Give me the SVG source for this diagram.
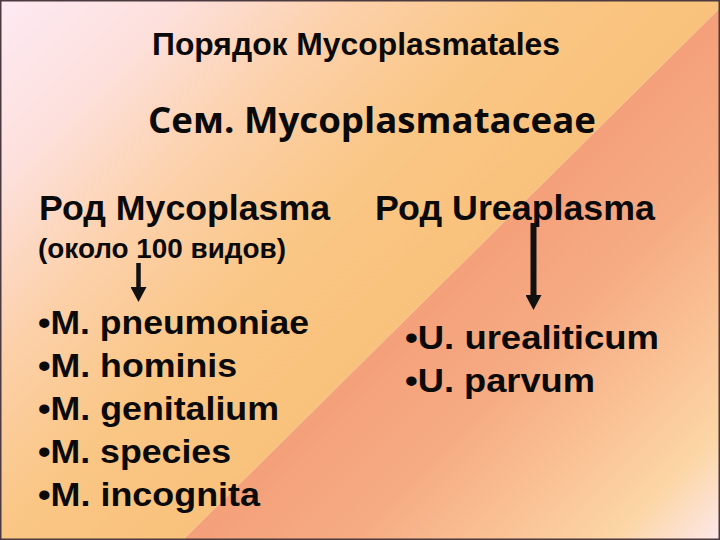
<svg xmlns="http://www.w3.org/2000/svg" width="720" height="540" viewBox="0 0 720 540">
  <defs>
    <linearGradient id="gUpper" gradientUnits="userSpaceOnUse" x1="0" y1="0" x2="362" y2="362">
      <stop offset="0" stop-color="#fdeaf4"/>
      <stop offset="0.25" stop-color="#fde0dc"/>
      <stop offset="0.5" stop-color="#fcd0a8"/>
      <stop offset="0.75" stop-color="#fac684"/>
      <stop offset="1" stop-color="#f9c27c"/>
    </linearGradient>
    <linearGradient id="gLower" gradientUnits="userSpaceOnUse" x1="362" y1="362" x2="630" y2="630">
      <stop offset="0" stop-color="#f4a07a"/>
      <stop offset="0.3" stop-color="#f6ab82"/>
      <stop offset="0.6" stop-color="#fac497"/>
      <stop offset="0.8" stop-color="#fcd6a6"/>
      <stop offset="1" stop-color="#fde8ea"/>
    </linearGradient>
    <marker id="head" viewBox="0 0 15 16" markerUnits="userSpaceOnUse" markerWidth="15" markerHeight="16" refX="1" refY="8" orient="auto">
      <path d="M0,0 L15,8 L0,16 Z" fill="#111"/>
    </marker>
    <style>
      .t { font-family: "Liberation Sans", Arial, sans-serif; font-weight: bold; fill: #0a0a0a; }
      .fam { font-family: "Open Sans", "Noto Sans", sans-serif; font-weight: bold; fill: #0a0a0a; }
      .arrow { stroke: #111; fill: none; marker-end: url(#head); }
    </style>
  </defs>

  <g id="background">
    <polygon points="0,0 720,0 720,8 183,540 0,540" fill="url(#gUpper)"/>
    <polygon points="720,8 720,540 183,540" fill="url(#gLower)"/>
    <rect x="0.75" y="0.75" width="718.5" height="538.5" fill="none" stroke="#4b3a3f" stroke-width="1.5"/>
  </g>

  <g id="order">
    <text class="t" x="152" y="55" font-size="31" textLength="408" lengthAdjust="spacingAndGlyphs">Порядок Mycoplasmatales</text>
  </g>

  <g id="family">
    <text class="fam" x="148" y="133" font-size="36" textLength="448" lengthAdjust="spacingAndGlyphs">Сем. Mycoplasmataceae</text>
  </g>

  <g id="genus-mycoplasma">
    <text class="t" x="39" y="220" font-size="35" textLength="291" lengthAdjust="spacingAndGlyphs">Род Mycoplasma</text>
    <text class="t" x="38" y="258" font-size="27" textLength="248" lengthAdjust="spacingAndGlyphs">(около 100 видов)</text>
  </g>

  <g id="genus-ureaplasma">
    <text class="t" x="375" y="220" font-size="35" textLength="280" lengthAdjust="spacingAndGlyphs">Род Ureaplasma</text>
  </g>

  <g id="species-mycoplasma">
    <text class="t" x="38" y="334" font-size="34" textLength="271" lengthAdjust="spacingAndGlyphs">•M. pneumoniae</text>
    <text class="t" x="38" y="377" font-size="34" textLength="199" lengthAdjust="spacingAndGlyphs">•M. hominis</text>
    <text class="t" x="38" y="420" font-size="34" textLength="241" lengthAdjust="spacingAndGlyphs">•M. genitalium</text>
    <text class="t" x="38" y="463" font-size="34" textLength="193" lengthAdjust="spacingAndGlyphs">•M. species</text>
    <text class="t" x="38" y="506" font-size="34" textLength="222" lengthAdjust="spacingAndGlyphs">•M. incognita</text>
  </g>

  <g id="species-ureaplasma">
    <text class="t" x="405" y="349" font-size="34" textLength="254" lengthAdjust="spacingAndGlyphs">•U. urealiticum</text>
    <text class="t" x="405" y="392" font-size="34" textLength="190" lengthAdjust="spacingAndGlyphs">•U. parvum</text>
  </g>

  <g id="connectors">
    <line class="arrow" x1="138.5" y1="263" x2="138.5" y2="288" stroke-width="4.5"/>
    <line class="arrow" x1="533.5" y1="223" x2="533.5" y2="296" stroke-width="6"/>
  </g>
</svg>
